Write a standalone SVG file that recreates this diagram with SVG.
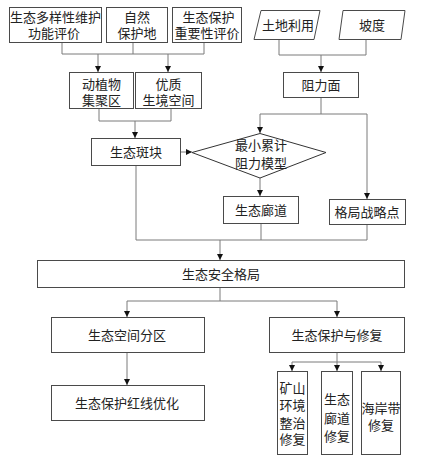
<svg xmlns="http://www.w3.org/2000/svg" width="432" height="469" viewBox="0 0 432 469">
<style>
.box{fill:#fff;stroke:#4a4a4a;stroke-width:1}
.ln{fill:none;stroke:#7a7a7a;stroke-width:1}
.ar{fill:none;stroke:#7a7a7a;stroke-width:1;marker-end:url(#ah)}
text{font-family:"Noto Sans CJK SC","Liberation Serif",serif;font-size:13px;fill:#222;text-anchor:middle}
</style>
<defs>
<marker id="ah" viewBox="0 0 8 8" refX="8" refY="4" markerWidth="6" markerHeight="6" markerUnits="userSpaceOnUse" orient="auto">
<path d="M0,0 L8,4 L0,8 Z" fill="#111"/>
</marker>
</defs>
<rect width="432" height="469" fill="#fff"/>
<g id="connectors">
<polyline class="ln" points="62,42 62,54 204,54 204,42"/>
<line class="ln" x1="133" y1="42" x2="133" y2="54"/>
<line class="ar" x1="98" y1="54" x2="98" y2="72"/>
<line class="ar" x1="168" y1="54" x2="168" y2="72"/>
<polyline class="ln" points="99,109 99,121 171,121 171,109"/>
<line class="ar" x1="135" y1="121" x2="135" y2="138"/>
<polyline class="ln" points="279,39 279,55 366,55 366,39"/>
<line class="ar" x1="321" y1="55" x2="321" y2="72"/>
<line class="ln" x1="321" y1="98" x2="321" y2="114"/>
<polyline class="ar" points="260,114 260,133"/>
<polyline class="ar" points="260,114 367,114 367,199"/>
<line class="ar" x1="180" y1="152" x2="192" y2="152"/>
<line class="ar" x1="260" y1="178" x2="260" y2="196"/>
<polyline class="ln" points="136,166 136,240 367,240 367,224"/>
<line class="ln" x1="261" y1="223" x2="261" y2="240"/>
<line class="ar" x1="220" y1="240" x2="220" y2="260"/>
<line class="ln" x1="220" y1="287" x2="220" y2="301"/>
<polyline class="ar" points="220,301 127,301 127,317"/>
<polyline class="ar" points="220,301 337,301 337,317"/>
<line class="ar" x1="127" y1="352" x2="127" y2="385"/>
<line class="ln" x1="337" y1="353" x2="337" y2="362"/>
<polyline class="ar" points="337,362 292,362 292,371"/>
<polyline class="ar" points="337,362 381,362 381,371"/>
<line class="ar" x1="337" y1="362" x2="337" y2="371"/>
</g>
<g id="n1"><rect class="box" x="9.5" y="7.5" width="92" height="35"/><text x="55.5" y="22">生态多样性维护</text><text x="54" y="38">功能评价</text></g>
<g id="n2"><rect class="box" x="106.5" y="7.5" width="61" height="35"/><text x="137" y="22">自然</text><text x="137" y="38">保护地</text></g>
<g id="n3"><rect class="box" x="172.5" y="7.5" width="69" height="35"/><text x="208.5" y="22">生态保护</text><text x="207" y="38">重要性评价</text></g>
<g id="n4"><polygon class="box" points="261,10.5 320,10.5 314,39.5 254,39.5"/><text x="288" y="30">土地利用</text></g>
<g id="n5"><polygon class="box" points="343,10.5 405,10.5 401,39.5 339,39.5"/><text x="372" y="30">坡度</text></g>
<g id="n6"><rect class="box" x="69.5" y="72.5" width="64" height="36"/><text x="101.5" y="89">动植物</text><text x="101.5" y="105">集聚区</text></g>
<g id="n7"><rect class="box" x="135.5" y="72.5" width="66" height="36"/><text x="168.5" y="89">优质</text><text x="168.5" y="105">生境空间</text></g>
<g id="n8"><rect class="box" x="283.5" y="72.5" width="75" height="25"/><text x="321" y="90">阻力面</text></g>
<g id="n9"><rect class="box" x="91.5" y="138.5" width="89" height="27"/><text x="136" y="157">生态斑块</text></g>
<g id="n10"><polygon class="box" points="260,133.5 326,152.5 260,178 192,152.5" style="stroke:#333"/><text x="261" y="150">最小累计</text><text x="261" y="168">阻力模型</text></g>
<g id="n11"><rect class="box" x="223.5" y="196.5" width="75" height="27"/><text x="261" y="215">生态廊道</text></g>
<g id="n12"><rect class="box" x="329.5" y="199.5" width="76" height="25"/><text x="367" y="217">格局战略点</text></g>
<g id="n13"><rect class="box" x="37.5" y="260.5" width="367" height="27"/><text x="221" y="279">生态安全格局</text></g>
<g id="n14"><rect class="box" x="51.5" y="317.5" width="153" height="35"/><text x="127" y="340">生态空间分区</text></g>
<g id="n15"><rect class="box" x="269.5" y="317.5" width="135" height="35"/><text x="337" y="340">生态保护与修复</text></g>
<g id="n16"><rect class="box" x="51.5" y="385.5" width="153" height="35"/><text x="127" y="408">生态保护红线优化</text></g>
<g id="n17"><rect class="box" x="277.5" y="371.5" width="30" height="83"/><text x="292.5" y="393">矿山</text><text x="292.5" y="410">环境</text><text x="292.5" y="428">整治</text><text x="292.5" y="444">修复</text></g>
<g id="n18"><rect class="box" x="321.5" y="371.5" width="31" height="83"/><text x="337" y="404">生态</text><text x="337" y="423">廊道</text><text x="337" y="441">修复</text></g>
<g id="n19"><rect class="box" x="361.5" y="371.5" width="39" height="83"/><text x="381" y="413">海岸带</text><text x="381" y="430">修复</text></g>
</svg>
